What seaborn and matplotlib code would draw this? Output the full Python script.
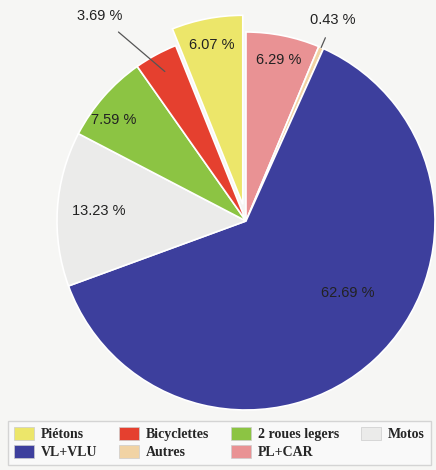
import numpy as np
import matplotlib
matplotlib.use("Agg")
import matplotlib.pyplot as plt
import matplotlib.patches as mpatches
import seaborn as sns

# =====================================================
# data (clockwise from 12 o'clock)
# =====================================================

categories = ["PL+CAR", "Autres", "VL+VLU", "Motos",
              "2 roues legers", "Bicyclettes", "Piétons"]
shares = [6.29, 0.43, 62.69, 13.23, 7.59, 3.69, 6.07]
labels = ["6.29 %", "0.43 %", "62.69 %", "13.23 %",
          "7.59 %", "3.69 %", "6.07 %"]
colors = ["#e99294", "#f1d3a4", "#3d3f9d", "#ebebea",
          "#8cc443", "#e5402f", "#ece66a"]
explode = [0, 0, 0, 0, 0, 0, 0.09]

# legend order (row by row in the picture)
legend_order = ["Piétons", "Bicyclettes", "2 roues legers", "Motos",
                "VL+VLU", "Autres", "PL+CAR"]

# label placement: radius, angle tweak, leader line target radius (None = inside)
label_r = [0.87, 1.16, 0.66, 0.78, 0.88, 1.33, 0.86]
label_da = [0, 0, 12, 0, 4, 7, 0]
leader_r = [None, 1.0, None, None, None, 0.9, None]

sns.set_theme(style="white")
plt.rcParams["font.family"] = ["Liberation Sans", "DejaVu Sans"]

R = 189
fig = plt.figure(figsize=(4.36, 4.70), dpi=100, facecolor="#f6f6f4")
ax = fig.add_axes([(246 - R) / 436, (470 - 221 - R) / 470,
                   2 * R / 436, 2 * R / 470])
ax.set_facecolor("#f6f6f4")

wedges, _ = ax.pie(
    shares,
    colors=sns.color_palette(colors),
    explode=explode,
    startangle=90,
    counterclock=False,
    wedgeprops=dict(edgecolor="white", linewidth=1.2),
)

for i, w in enumerate(wedges):
    mid = np.deg2rad((w.theta1 + w.theta2) / 2 + label_da[i])
    cx, cy = w.center
    tx = cx + label_r[i] * np.cos(mid)
    ty = cy + label_r[i] * np.sin(mid)
    if leader_r[i] is None:
        ax.text(tx, ty, labels[i], ha="center", va="center",
                fontsize=10.5, color="#222222")
    else:
        m2 = np.deg2rad((w.theta1 + w.theta2) / 2)
        ex = cx + leader_r[i] * np.cos(m2)
        ey = cy + leader_r[i] * np.sin(m2)
        ax.annotate(labels[i], xy=(ex, ey), xytext=(tx, ty),
                    ha="center", va="center", fontsize=10.5, color="#222222",
                    arrowprops=dict(arrowstyle="-", color="#555555", lw=0.9,
                                    shrinkA=6, shrinkB=0))

ax.set_xlim(-1, 1)
ax.set_ylim(-1, 1)
ax.axis("off")

# =====================================================
# legend (matplotlib fills columns first)
# =====================================================

handles = {c: mpatches.Patch(facecolor=col, edgecolor="#cccccc", linewidth=0.5)
           for c, col in zip(categories, colors)}
ncol = 4
rows = [legend_order[:ncol], legend_order[ncol:]]
col_order = []
for j in range(ncol):
    for r in rows:
        if j < len(r):
            col_order.append(r[j])

leg = fig.legend(
    [handles[c] for c in col_order],
    col_order,
    loc="lower center",
    bbox_to_anchor=(0.503, -0.005),
    ncol=ncol,
    frameon=True,
    fancybox=False,
    handlelength=1.4,
    handleheight=1.1,
    handletextpad=0.5,
    columnspacing=1.6,
    labelspacing=0.25,
    borderpad=0.45,
    prop=dict(family=["Liberation Serif", "DejaVu Serif"], weight="bold", size=10),
)
leg.get_frame().set_edgecolor("#cccccc")
leg.get_frame().set_facecolor("#fbfbfb")

fig.savefig("out.png", dpi=100, facecolor=fig.get_facecolor())
